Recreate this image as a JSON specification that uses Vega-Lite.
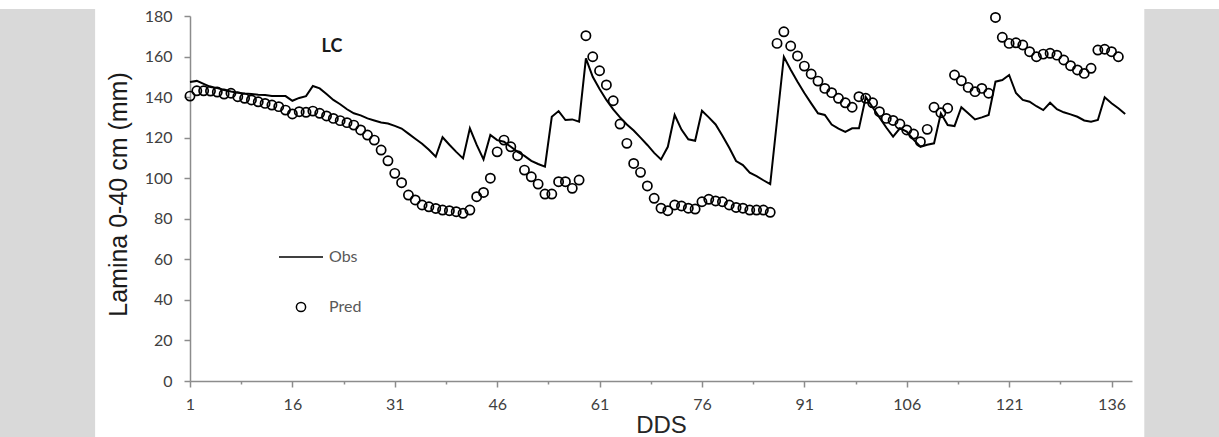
{
  "$schema": "https://vega.github.io/schema/vega-lite/v6.json",
  "width": 942,
  "height": 365,
  "autosize": {"type": "none"},
  "padding": {"left": 190, "top": 16, "right": 87, "bottom": 56},
  "background": "#ffffff",
  "config": {
    "view": {"stroke": null},
    "axis": {"grid": false, "domainColor": "#8c8c8c", "domainWidth": 1.5, "tickColor": "#8c8c8c", "tickWidth": 1.5, "labelFont": "Lato", "labelFontSize": 16, "labelColor": "#404040", "titleFont": "Liberation Sans", "titleFontWeight": "normal", "titleColor": "#1a1a1a"}
  },
  "datasets": {
    "obs": [
      {"DDS":1,"value":147.5},{"DDS":2,"value":148},{"DDS":3,"value":146.5},{"DDS":4,"value":145},{"DDS":5,"value":144.5},{"DDS":6,"value":143.5},{"DDS":7,"value":142.8},{"DDS":8,"value":142.2},{"DDS":9,"value":141.8},{"DDS":10,"value":141.5},
      {"DDS":11,"value":141.2},{"DDS":12,"value":141},{"DDS":13,"value":140.6},{"DDS":14,"value":140.5},{"DDS":15,"value":140.5},{"DDS":16,"value":138.2},{"DDS":17,"value":139.6},{"DDS":18,"value":140.5},{"DDS":19,"value":145.5},{"DDS":20,"value":144.3},
      {"DDS":21,"value":141.5},{"DDS":22,"value":138.6},{"DDS":23,"value":136.5},{"DDS":24,"value":134},{"DDS":25,"value":132},{"DDS":26,"value":131},{"DDS":27,"value":129.5},{"DDS":28,"value":128.5},{"DDS":29,"value":127.5},{"DDS":30,"value":127},
      {"DDS":31,"value":125.8},{"DDS":32,"value":124.5},{"DDS":33,"value":122},{"DDS":34,"value":119.5},{"DDS":35,"value":117},{"DDS":36,"value":114},{"DDS":37,"value":110.6},{"DDS":38,"value":120.2},{"DDS":39,"value":116.5},{"DDS":40,"value":113},
      {"DDS":41,"value":109.8},{"DDS":42,"value":124.6},{"DDS":43,"value":116.4},{"DDS":44,"value":109.3},{"DDS":45,"value":121.3},{"DDS":46,"value":118.8},{"DDS":47,"value":118},{"DDS":48,"value":115.5},{"DDS":49,"value":113},{"DDS":50,"value":111},
      {"DDS":51,"value":108.6},{"DDS":52,"value":107},{"DDS":53,"value":105.7},{"DDS":54,"value":130.3},{"DDS":55,"value":133.1},{"DDS":56,"value":128.7},{"DDS":57,"value":129},{"DDS":58,"value":127.9},{"DDS":59,"value":159.1},{"DDS":60,"value":150},
      {"DDS":61,"value":144},{"DDS":62,"value":138.6},{"DDS":63,"value":134},{"DDS":64,"value":130},{"DDS":65,"value":126.5},{"DDS":66,"value":123.5},{"DDS":67,"value":120},{"DDS":68,"value":116.4},{"DDS":69,"value":112.5},{"DDS":70,"value":109.3},
      {"DDS":71,"value":115.5},{"DDS":72,"value":131.2},{"DDS":73,"value":124},{"DDS":74,"value":119.2},{"DDS":75,"value":118.5},{"DDS":76,"value":133.3},{"DDS":77,"value":130},{"DDS":78,"value":126.5},{"DDS":79,"value":121},{"DDS":80,"value":115},
      {"DDS":81,"value":108.5},{"DDS":82,"value":106.5},{"DDS":83,"value":102.7},{"DDS":84,"value":101},{"DDS":85,"value":99},{"DDS":86,"value":97.1},{"DDS":88,"value":159.9},{"DDS":89,"value":153.5},{"DDS":90,"value":147.6},
      {"DDS":91,"value":142},{"DDS":92,"value":136.9},{"DDS":93,"value":132},{"DDS":94,"value":131.2},{"DDS":95,"value":126.5},{"DDS":96,"value":124.5},{"DDS":97,"value":122.9},{"DDS":98,"value":124.6},{"DDS":99,"value":124.6},{"DDS":100,"value":140},
      {"DDS":101,"value":135},{"DDS":102,"value":130},{"DDS":103,"value":125},{"DDS":104,"value":120.5},{"DDS":105,"value":124.6},{"DDS":106,"value":123},{"DDS":107,"value":119},{"DDS":108,"value":115.5},{"DDS":109,"value":116.5},{"DDS":110,"value":117.2},
      {"DDS":111,"value":132},{"DDS":112,"value":126.2},{"DDS":113,"value":125.7},{"DDS":114,"value":135},{"DDS":115,"value":132},{"DDS":116,"value":129},{"DDS":117,"value":130},{"DDS":118,"value":131.2},{"DDS":119,"value":147.6},{"DDS":120,"value":148.4},
      {"DDS":121,"value":150.9},{"DDS":122,"value":142},{"DDS":123,"value":138.6},{"DDS":124,"value":137.7},{"DDS":125,"value":135.5},{"DDS":126,"value":133.6},{"DDS":127,"value":137.2},{"DDS":128,"value":134},{"DDS":129,"value":132.5},{"DDS":130,"value":131.5},
      {"DDS":131,"value":130.3},{"DDS":132,"value":128.5},{"DDS":133,"value":127.9},{"DDS":134,"value":128.7},{"DDS":135,"value":139.9},{"DDS":136,"value":137},{"DDS":137,"value":134.5},{"DDS":138,"value":131.7}
    ],
    "pred": [
      {"DDS":1,"value":140.5},{"DDS":2,"value":143.1},{"DDS":3,"value":143.1},{"DDS":4,"value":143},{"DDS":5,"value":142.5},{"DDS":6,"value":141.5},{"DDS":7,"value":141.9},{"DDS":8,"value":140.2},{"DDS":9,"value":139.4},{"DDS":10,"value":138.6},
      {"DDS":11,"value":137.7},{"DDS":12,"value":136.9},{"DDS":13,"value":136.1},{"DDS":14,"value":135.3},{"DDS":15,"value":133.6},{"DDS":16,"value":131.7},{"DDS":17,"value":132.8},{"DDS":18,"value":132.5},{"DDS":19,"value":133.1},{"DDS":20,"value":132},
      {"DDS":21,"value":130.7},{"DDS":22,"value":129.5},{"DDS":23,"value":128.4},{"DDS":24,"value":127.4},{"DDS":25,"value":126.2},{"DDS":26,"value":123.8},{"DDS":27,"value":121.3},{"DDS":28,"value":118.8},{"DDS":29,"value":113.9},{"DDS":30,"value":108.6},
      {"DDS":31,"value":102.4},{"DDS":32,"value":97.8},{"DDS":33,"value":91.7},{"DDS":34,"value":89.3},{"DDS":35,"value":86.8},{"DDS":36,"value":85.9},{"DDS":37,"value":85.1},{"DDS":38,"value":84.3},{"DDS":39,"value":84},{"DDS":40,"value":83.5},
      {"DDS":41,"value":82.7},{"DDS":42,"value":84.3},{"DDS":43,"value":90.9},{"DDS":44,"value":93},{"DDS":45,"value":100},{"DDS":46,"value":113},{"DDS":47,"value":118.8},{"DDS":48,"value":115.5},{"DDS":49,"value":111.1},{"DDS":50,"value":104},
      {"DDS":51,"value":100.7},{"DDS":52,"value":97.1},{"DDS":53,"value":92.2},{"DDS":54,"value":92.2},{"DDS":55,"value":98.3},{"DDS":56,"value":98.3},{"DDS":57,"value":95},{"DDS":58,"value":99.1},{"DDS":59,"value":170.3},{"DDS":60,"value":159.9},
      {"DDS":61,"value":153},{"DDS":62,"value":146},{"DDS":63,"value":138.2},{"DDS":64,"value":126.7},{"DDS":65,"value":117.2},{"DDS":66,"value":107.3},{"DDS":67,"value":102.9},{"DDS":68,"value":96.2},{"DDS":69,"value":90.1},{"DDS":70,"value":85.2},
      {"DDS":71,"value":84},{"DDS":72,"value":86.8},{"DDS":73,"value":86.3},{"DDS":74,"value":85.2},{"DDS":75,"value":84.8},{"DDS":76,"value":88.4},{"DDS":77,"value":89.6},{"DDS":78,"value":88.8},{"DDS":79,"value":88.4},{"DDS":80,"value":86.8},
      {"DDS":81,"value":85.6},{"DDS":82,"value":85.2},{"DDS":83,"value":84.3},{"DDS":84,"value":84.3},{"DDS":85,"value":84.3},{"DDS":86,"value":83.2},{"DDS":87,"value":166.5},{"DDS":88,"value":172.2},{"DDS":89,"value":165.2},{"DDS":90,"value":160.3},
      {"DDS":91,"value":155.3},{"DDS":92,"value":151.4},{"DDS":93,"value":147.9},{"DDS":94,"value":144.3},{"DDS":95,"value":142.2},{"DDS":96,"value":139.4},{"DDS":97,"value":137.2},{"DDS":98,"value":135},{"DDS":99,"value":140.2},{"DDS":100,"value":139.4},
      {"DDS":101,"value":137.2},{"DDS":102,"value":132.8},{"DDS":103,"value":129.5},{"DDS":104,"value":128.5},{"DDS":105,"value":126.7},{"DDS":106,"value":123.8},{"DDS":107,"value":121.8},{"DDS":108,"value":118},{"DDS":109,"value":124.1},{"DDS":110,"value":135},
      {"DDS":111,"value":132.3},{"DDS":112,"value":134.5},{"DDS":113,"value":150.9},{"DDS":114,"value":148.1},{"DDS":115,"value":144.8},{"DDS":116,"value":142.7},{"DDS":117,"value":144.3},{"DDS":118,"value":141.9},{"DDS":119,"value":179.3},{"DDS":120,"value":169.5},
      {"DDS":121,"value":166.5},{"DDS":122,"value":166.8},{"DDS":123,"value":165.7},{"DDS":124,"value":162.4},{"DDS":125,"value":159.9},{"DDS":126,"value":161.2},{"DDS":127,"value":161.6},{"DDS":128,"value":160.7},{"DDS":129,"value":158.3},{"DDS":130,"value":155.5},
      {"DDS":131,"value":153.4},{"DDS":132,"value":151.7},{"DDS":133,"value":154.2},{"DDS":134,"value":163.2},{"DDS":135,"value":163.6},{"DDS":136,"value":162.4},{"DDS":137,"value":159.9}
    ]
  },
  "layer": [
    {
      "data": {"values": [{"band": "left"}]},
      "mark": {"type": "rect", "color": "#d9d9d9", "clip": false},
      "encoding": {
        "x": {"datum": -30, "type": "quantitative", "scale": {"domain": [1, 139], "nice": false, "zero": false}},
        "x2": {"datum": -12.9},
        "y": {"datum": 183.4, "type": "quantitative", "scale": {"domain": [0, 180], "nice": false}},
        "y2": {"datum": -40}
      }
    },
    {
      "data": {"values": [{"band": "right"}]},
      "mark": {"type": "rect", "color": "#d9d9d9", "clip": false},
      "encoding": {
        "x": {"datum": 140.8, "type": "quantitative"},
        "x2": {"datum": 160},
        "y": {"datum": 183.4, "type": "quantitative"},
        "y2": {"datum": -40}
      }
    },
    {
      "data": {"name": "obs"},
      "mark": {"type": "line", "color": "#000000", "strokeWidth": 2},
      "encoding": {
        "x": {
          "field": "DDS", "type": "quantitative",
          "scale": {"domain": [1, 139], "nice": false, "zero": false},
          "axis": {
            "title": "DDS", "titleFontSize": 24, "titleColor": "#262626", "titleBaseline": "alphabetic", "titleY": 51,
            "values": [1, 8.5, 16, 23.5, 31, 38.5, 46, 53.5, 61, 68.5, 76, 83.5, 91, 98.5, 106, 113.5, 121, 128.5, 136],
            "labelExpr": "datum.value % 15 == 1 ? datum.label : ''",
            "tickSize": {"condition": {"test": "datum.value % 15 == 1", "value": 6}, "value": 3},
            "labelPadding": 9, "labelFlush": false, "labelOverlap": false
          }
        },
        "y": {
          "field": "value", "type": "quantitative",
          "scale": {"domain": [0, 180], "nice": false},
          "axis": {
            "title": "Lamina 0-40 cm (mm)", "titleFontSize": 25, "titleX": -72, "titleY": 178, "titleAngle": -90, "titleAlign": "center", "titleBaseline": "middle",
            "values": [0, 20, 40, 60, 80, 100, 120, 140, 160, 180],
            "tickSize": 6, "labelPadding": 12
          }
        }
      }
    },
    {
      "data": {"name": "pred"},
      "transform": [{"calculate": "'Pred'", "as": "series"}],
      "mark": {"type": "point", "filled": false, "color": "#000000", "strokeWidth": 1.7, "opacity": 1},
      "encoding": {
        "x": {"field": "DDS", "type": "quantitative"},
        "y": {"field": "value", "type": "quantitative"},
        "size": {
          "field": "series", "type": "nominal",
          "scale": {"domain": ["Obs", "Pred"], "range": [1936, 85]},
          "legend": {
            "title": null, "orient": "none", "legendX": 88, "legendY": 218, "padding": 0,
            "rowPadding": 34, "labelOffset": 5,
            "labelFont": "Lato", "labelFontSize": 16, "labelColor": "#595959",
            "encode": {
              "symbols": {
                "update": {
                  "stroke": {"signal": "datum.value === 'Obs' ? '#767676' : '#000000'"},
                  "strokeWidth": {"signal": "datum.value === 'Obs' ? 1.5 : 1.7"},
                  "fill": {"value": "transparent"}
                }
              }
            }
          }
        },
        "shape": {
          "field": "series", "type": "nominal",
          "scale": {"domain": ["Obs", "Pred"], "range": ["stroke", "circle"]},
          "legend": {
            "title": null, "orient": "none", "legendX": 88, "legendY": 218, "padding": 0,
            "rowPadding": 34, "labelOffset": 5,
            "labelFont": "Lato", "labelFontSize": 16, "labelColor": "#595959",
            "encode": {
              "symbols": {
                "update": {
                  "stroke": {"signal": "datum.value === 'Obs' ? '#767676' : '#000000'"},
                  "strokeWidth": {"signal": "datum.value === 'Obs' ? 1.5 : 1.7"},
                  "fill": {"value": "transparent"}
                }
              }
            }
          }
        }
      }
    },
    {
      "data": {"values": [{"label": "LC"}]},
      "mark": {"type": "text", "font": "Lato", "fontWeight": "bold", "fontSize": 18, "color": "#1a1a1a", "align": "center", "baseline": "middle"},
      "encoding": {
        "x": {"datum": 21.8, "type": "quantitative"},
        "y": {"datum": 164.7, "type": "quantitative"},
        "text": {"field": "label"}
      }
    }
  ]
}
